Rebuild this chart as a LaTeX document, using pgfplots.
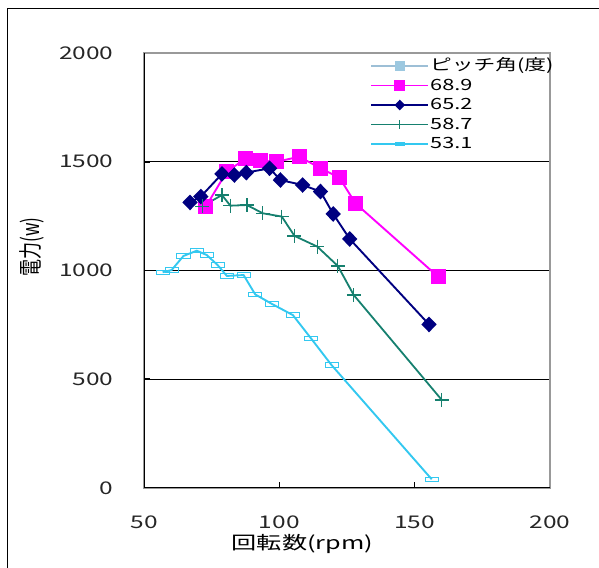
\documentclass[border=0pt]{standalone}
\usepackage{graphicx}
\usepackage{pgfplots}
\pgfplotsset{compat=1.18}
\usepackage{fontspec}
\setmainfont{Noto Sans CJK JP}[FakeStretch=1.4]
\newfontfamily\ylabfont{Noto Sans CJK JP}
\definecolor{cmag}{HTML}{FF00FF}
\definecolor{cnavy}{HTML}{000080}
\definecolor{cteal}{HTML}{16806F}
\definecolor{ccyan}{HTML}{33C8F0}
\definecolor{chead}{HTML}{9DBFD6}
\definecolor{cheadm}{HTML}{9CC8E0}
\begin{document}
\begin{tikzpicture}
\begin{axis}[
  at={(144pt,79pt)}, anchor=south west,
  scale only axis, width=406pt, height=435pt,
  xmin=50, xmax=200, ymin=0, ymax=2000,
  xtick={50,100,150,200}, ytick={0,500,1000,1500,2000},
  tick pos=left, tick align=inside, major tick length=6pt,
  tick style={black, line width=1.4pt},
  ymajorgrids, grid style={black, line width=0.9pt},
  axis line style={draw=gray!80, line width=1.5pt},
  /pgf/number format/assume math mode=true,
  /pgf/number format/1000 sep={},
  scaled ticks=false,
  ticklabel style={font=\fontsize{17.5}{20}\selectfont, text=black!85},
  xticklabel style={yshift=-24pt},
  yticklabel style={xshift=-27pt},
  xlabel={回転数(rpm)},
  xlabel style={at={(rel axis cs:0.39,0)}, anchor=north, yshift=-43pt, font=\fontsize{18}{20}\selectfont},
  ylabel={\scalebox{1}[1.4]{電力(w)}},
  ylabel style={at={([xshift=-112pt]rel axis cs:0,0.554)}, anchor=center, font=\ylabfont\fontsize{17}{20}\selectfont},
  legend style={draw=none, fill=none, at={(rel axis cs:0.557,0.99)}, anchor=north west,
    inner sep=0pt, row sep=2.5pt, font=\fontsize{15.5}{17}\selectfont,
    nodes={inner sep=1pt, text height=12pt, text depth=3pt}},
  legend cell align=left,
  legend image code/.code={\draw[mark repeat=2,mark phase=2] plot coordinates {(0pt,0pt) (28.5pt,0pt) (57pt,0pt)};},
]
\addlegendimage{color=chead, line width=1.8pt, mark=square*, mark size=4pt, mark options={fill=cheadm, draw=cheadm}}
\addlegendentry{ピッチ角(度)}
\addplot[color=cmag, line width=1.9pt, mark=square*, mark size=6.5pt, legend image post style={mark size=4.5pt}] coordinates {
(72.8,1293) (80.6,1455) (87.4,1513) (93.0,1505) (98.9,1500) (107.4,1523) (115.2,1470) (122.2,1427) (128.1,1309) (158.7,971)
};
\addlegendentry{68.9}
\addplot[color=cnavy, line width=1.9pt, mark=diamond*, mark size=6.5pt, mark options={xscale=1.3}, legend image post style={mark size=4pt}] coordinates {
(67.0,1313) (71.0,1340) (78.8,1444) (83.4,1439) (87.8,1450) (96.4,1470) (100.4,1416) (108.6,1393) (115.2,1363) (119.9,1260) (126.0,1145) (155.3,752)
};
\addlegendentry{65.2}
\addplot[color=cteal, line width=1.8pt, mark=+, mark size=7pt, mark options={line width=1.3pt}, legend image post style={mark size=4.5pt}] coordinates {
(71.5,1295) (78.8,1347) (81.9,1298) (88.0,1301) (93.9,1263) (100.9,1248) (105.6,1159) (114.0,1110) (121.6,1021) (127.5,887) (160.0,405)
};
\addlegendentry{58.7}
\addplot[color=ccyan, line width=1.9pt, mark=square, mark size=2.2pt, mark options={xscale=3, line width=0.9pt, fill=white}, legend image post style={mark size=1.5pt}] coordinates {
(56.9,992) (60.2,1002) (64.6,1067) (69.5,1091) (73.2,1071) (77.2,1025) (80.6,975) (86.8,979) (91.1,890) (97.3,846) (105.0,795) (111.7,688) (119.3,565) (156.3,40)
};
\addlegendentry{53.1}
\draw[gray!80, line width=1.5pt] (rel axis cs:0,1) -- (rel axis cs:1,1) -- (rel axis cs:1,0);
\draw[black, line width=2pt] (rel axis cs:0,1) -- (rel axis cs:0,0) -- (rel axis cs:1,0);
\draw[black, line width=1.6pt] (axis cs:100,0) -- ++(0pt,6pt) (axis cs:150,0) -- ++(0pt,6pt);
\draw[black, line width=1.6pt] (axis cs:50,500) -- ++(6pt,0pt) (axis cs:50,1000) -- ++(6pt,0pt) (axis cs:50,1500) -- ++(6pt,0pt);
\end{axis}
\draw[black, line width=1pt] (7pt,-5pt) -- (7pt,558pt) -- (610pt,558pt);
\pgfresetboundingbox
\useasboundingbox (0,0) rectangle (599pt,567pt);
\end{tikzpicture}
\end{document}
